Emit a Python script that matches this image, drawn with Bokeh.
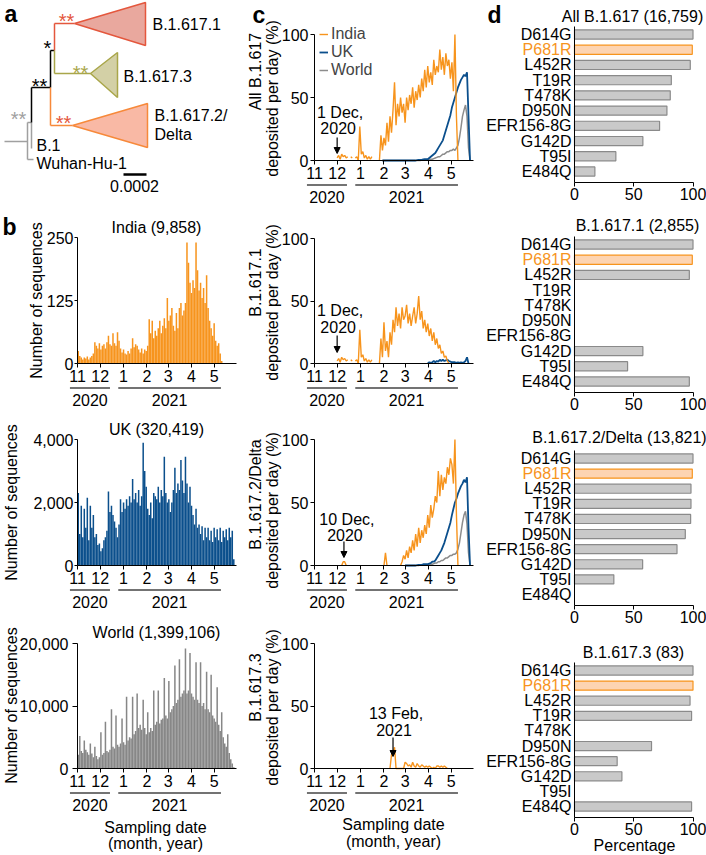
import numpy as np
from bokeh.plotting import figure
from bokeh.models import (Range1d, LinearAxis, FixedTicker, NumeralTickFormatter,
                          Arrow, NormalHead, Legend, LegendItem, ColumnDataSource)
from bokeh.layouts import row, column
from bokeh.embed import file_html
from bokeh.resources import INLINE
from bokeh.core.properties import value

N = float("nan")
FONT = "Liberation Sans"
ORANGE = "#f7941d"
BLUE = "#0b4f8c"
GRAYL = "#8c8c8c"
GRAYB = "#878787"

# ---------------- data ----------------
# x axis: days since 1 Nov 2020
month_ticks = [0, 30, 61, 92, 120, 151, 181]
month_labels = ["11", "12", "1", "2", "3", "4", "5"]
years = ["2020", "2021"]
year_spans = [(-10, 43), (54, 190)]
BIN = 2  # days per value

# panel b: sequences per 2-day bin, starting 1 Nov 2020
india_counts = [25, 15, 12, 8, 12, 10, 14, 8, 12, 15,
                20, 42, 35, 30, 40, 28, 35, 38, 30, 42,
                55, 38, 35, 60, 40, 35, 62, 45, 30, 22,
                28, 20, 18, 25, 20, 30, 50, 32, 38, 35,
                28, 22, 30, 20, 28, 25, 35, 88, 60, 85,
                50, 65, 55, 70, 85, 60, 75, 90, 70, 130,
                85, 95, 110, 75, 65, 100, 70, 110, 120, 95,
                105, 120, 240, 200, 160, 140, 165, 150, 240, 185,
                145, 160, 130, 150, 120, 175, 110, 85, 70, 55,
                80, 45, 35, 40, 20, 5]
uk_counts = [2300, 1000, 1900, 900, 1800, 1200, 2150, 800, 1900, 1200,
             1600, 900, 1000, 650, 700, 450, 550, 800, 900, 1100,
             2350, 1700, 1900, 1600, 1400, 1200, 900, 1300, 2100, 1700,
             2000, 1800, 2100, 1900, 2200, 2000, 2750, 2100, 2300, 2000,
             2400, 1900, 2200, 3900, 3000, 2500, 1800, 1600, 2000, 1500,
             2300, 2200, 2100, 2500, 2000, 2400, 2200, 3450, 2300, 2000,
             2100, 1700, 2000, 2400, 3100, 2300, 2600, 2400, 3350, 2700,
             2300, 3450, 2600, 2000, 2500, 1900, 1600, 1300, 1800, 1200,
             1300, 1000, 1250, 800, 1200, 900, 1200, 800, 1100, 750,
             1200, 900, 1150, 800, 1200, 750, 1100, 900, 1150, 800,
             1200, 900, 1100, 200]
world_counts = [2200, 5200, 2800, 2500, 4500, 3000, 2600, 2200, 4000, 2400,
                1800, 3500, 2000, 1500, 1800, 5800, 2200, 2500, 7500, 2800,
                2600, 3000, 9500, 3500, 3200, 8500, 3800, 3500, 4000, 8000,
                4200, 3800, 11500, 4500, 5000, 4800, 11500, 5500, 6000, 12000,
                6500, 7000, 6200, 11000, 6500, 5500, 9000, 5800, 6500, 6000,
                12500, 7000, 7500, 12500, 7200, 7800, 8000, 14500, 8500, 8000,
                14000, 9000, 9500, 10000, 16500, 10500, 11000, 17500, 11500, 12000,
                12500, 19200, 12000, 12500, 18500, 12000, 11500, 11000, 17000, 11000,
                10500, 17000, 10000, 10500, 9500, 15500, 9500, 9000, 15000, 8500,
                8000, 7500, 13000, 7000, 6000, 9000, 5000, 4000, 3500, 5500,
                2500, 1500, 800, 200]

# panel c: % deposited per day (2-day steps); (start day, values)
c_all_india_start = 30
c_all_india = [2, 4, 1, 5, 3, 4, 2, 3, N, 3,
               2, N, 2, 3, 0, 27, 5, 7, 2, 4,
               1, 3, 1, 3, N, N, N, N, 0, 20,
               8, 18, 12, 30, 15, 35, 22, 40, 62, 28,
               45, 35, 50, 38, 45, 30, 50, 40, 52, 45,
               58, 42, 55, 48, 60, 50, 65, 55, 72, 58,
               75, 62, 70, 60, 80, 68, 75, 70, 88, 72,
               82, 68, 85, 75, 80, 65, 78, 55, 100, 35,
               0]
c_all_uk_start = 90
c_all_uk = [0, 0, 0, 0, 0, 0, 0, 0, 0, 0,
            0, 0, 0, 0, 0, 0, 0, 0, 0, 0,
            0, 0, 0, 0.3, 0.5, 0.5, 0.5, 0.8, 1, 1,
            1, 2, 3, 4, 5, 6, 8, 10, 12, 14,
            16, 20, 24, 28, 32, 36, 42, 46, 50, 54,
            58, 61, 64, 66, 68, 67, 70, 35, 0]
c_all_world_start = 90
c_all_world = [0, 0, 0, 0, 0, 0, 0, 0, 0, 0,
               0, 0, 0, 0, 0, 0, 0, 0, 0, 0,
               0, 0, 0, 0, 0, 0, 0.3, 0.3, 0.5, 0.5,
               0.5, 0.8, 1, 1, 1.5, 2, 2.5, 3, 3, 4,
               5, 5, 6, 7, 7, 8, 8, 9, 8, 10,
               12, 18, 26, 35, 40, 44, 35, 10, 0]

c_1_india_start = 30
c_1_india = [2, 4, 1, 5, 3, 4, 2, 3, N, 3,
             2, N, 2, 3, 0, 27, 5, 7, 2, 4,
             1, 3, 1, 3, N, N, N, N, 0, 20,
             5, 33, 10, 18, 5, 25, 15, 35, 25, 45,
             30, 40, 28, 45, 35, 38, 47, 32, 40, 30,
             38, 45, 32, 40, 54, 35, 42, 28, 35, 25,
             32, 22, 28, 18, 25, 15, 20, 12, 15, 8,
             10, 5, 6, 2, 0, N]
c_1_uk_start = 150
c_1_uk = [0, 1, 0.5, 1, 2, 1, 2, 1.5, 3, 2,
          3, 2, 2.5, 3, 2, 1.5, 1, 1, 1, 0.5,
          1, 0.5, 1, 0.5, 1, 2, 5, 0]

c_2_india_start = 36
c_2_india = [0, 3, 3, 0, N, N, N, N, N, N,
             N, N, N, N, N, N, N, N, N, N,
             N, N, N, N, N, N, N, N, 0, 10,
             0, N, N, N, N, N, N, N, N, 0,
             3, 8, 5, 12, 6, 15, 10, 20, 12, 25,
             15, 30, 18, 28, 22, 32, 25, 40, 30, 48,
             38, 45, 55, 50, 75, 55, 72, 60, 70, 65,
             78, 72, 85, 80, 65, 100, 40, 0]
c_2_uk_start = 120
c_2_uk = [0, 0, 0, 0, 0, 0, 0, 0, 0.3, 0.5,
          0.5, 0.5, 1, 1, 1, 1, 1.5, 2, 3, 3,
          4, 6, 8, 10, 12, 15, 18, 22, 26, 30,
          34, 40, 45, 50, 53, 57, 60, 63, 65, 68,
          66, 70, 30, 0]
c_2_world_start = 120
c_2_world = [0, 0, 0, 0, 0, 0, 0, 0, 0, 0,
             0.3, 0.3, 0.5, 0.5, 0.5, 0.5, 0.8, 1, 1, 1.5,
             2, 2, 3, 3, 4, 4, 5, 6, 6, 7,
             8, 8, 9, 9, 10, 13, 18, 26, 34, 40,
             43, 33, 10, 0]

c_3_india_start = 100
c_3_india = [0, 11, 12, 17, 0, 0, 0, 0, 0, 0,
             5, 4, 2, 3, 1, 5, 2, 1, 4, 2,
             1, 3, 2, 1, 2, 1, 2, 1, 0, 1,
             0, 2, 2, 1, 2, 1, 2, 1, 0]

# panel d: mutation frequencies (%)
mutations = ["D614G", "P681R", "L452R", "T19R", "T478K", "D950N",
             "EFR156-8G", "G142D", "T95I", "E484Q"]
d_all = [100, 99.4, 97.7, 81.7, 80.8, 78.0, 71.8, 57.7, 34.9, 17.2]
d_1 = [100, 99.4, 96.9, 0, 0, 0, 0, 57.7, 44.8, 96.9]
d_2 = [100, 99.4, 98.3, 98.3, 98.0, 93.5, 86.5, 57.5, 33.2, 0]
d_3 = [100, 100, 97.5, 98.8, 0, 65.0, 36.0, 40.0, 0, 98.8]

# panel a: schematic tree (node positions in px)
tree_seg = [  # x0, y0, x1, y1, colour
    (4, 141, 27, 141, "#a0a0a0"), (27, 122, 27, 159, "#a0a0a0"),
    (27, 159, 33, 159, "#a0a0a0"), (27, 122, 31, 122, "#a0a0a0"),
    (31, 122, 31, 148, "#a0a0a0"),
    (31, 122, 31, 87, "black"), (31, 87, 50, 87, "black"),
    (50, 87, 50, 50, "black"), (50, 50, 54, 50, "black"),
    (50, 87, 50, 125, "#f7893a"), (50, 125, 72, 125, "#f7893a"),
    (54, 50, 54, 23, "#e4573d"), (54, 23, 74, 23, "#e4573d"),
    (54, 50, 54, 73, "#a9a64a"), (54, 73, 90, 73, "#a9a64a"),
]
tree_clades = [  # tip x, tip y, right x, top y, bottom y, fill, line
    (74, 23, 145, 2, 45, "#e9a89e", "#e4573d"),
    (90, 73, 117, 52, 97, "#d3d0a6", "#a9a64a"),
    (72, 125, 147, 103, 147, "#f9b9a5", "#f7893a"),
]
tree_labels = [("B.1.617.1", 152, 24), ("B.1.617.3", 123, 76),
               ("B.1.617.2/", 154, 115), ("Delta", 154, 134),
               ("B.1", 36, 145), ("Wuhan-Hu-1", 36, 163)]
tree_stars = [("**", 18, 113, "#a0a0a0"), ("**", 39, 80, "black"), ("*", 47, 42, "black"),
              ("**", 66, 15, "#e4573d"), ("**", 80, 67, "#a9a64a"), ("**", 63, 117, "#e4573d")]


# ---------------- helpers ----------------
class Panel:
    def __init__(self, X0, Y0, W, H, px0, sx, py0, sy):
        self.px0, self.sx, self.py0, self.sy = px0, sx, py0, sy
        xs = (X0 - px0) / sx
        xe = (X0 + W - px0) / sx
        ye = (py0 - Y0) / sy
        ys = (py0 - (Y0 + H)) / sy
        p = figure(width=W, height=H, x_range=Range1d(xs, xe), y_range=Range1d(ys, ye),
                   x_axis_type=None, y_axis_type=None, output_backend="svg",
                   toolbar_location=None, min_border=0, min_border_left=0,
                   min_border_right=0, min_border_top=0, min_border_bottom=0)
        p.outline_line_color = None
        p.background_fill_color = None
        p.border_fill_color = None
        self.p = p

    def fx(self, px):
        return (px - self.px0) / self.sx

    def fy(self, py):
        return (self.py0 - py) / self.sy

    def text(self, px, py, s, size=16, color="black", align="center", angle=0.0,
             bold=False, baseline="middle"):
        self.p.text(x=[self.fx(px)], y=[self.fy(py)], text=[s], text_font=value(FONT),
                    text_font_size=f"{size}px", text_color=color, text_align=align,
                    text_baseline=baseline, angle=angle,
                    text_font_style="bold" if bold else "normal")


def style_axis(ax, tick_out=4, standoff=2):
    ax.axis_line_color = "black"
    ax.axis_line_width = 1
    ax.major_tick_line_color = "black"
    ax.major_tick_in = 0
    ax.major_tick_out = tick_out
    ax.minor_tick_line_color = None
    ax.major_label_text_font = FONT
    ax.major_label_text_font_size = "16px"
    ax.major_label_text_color = "black"
    ax.major_label_standoff = standoff


def time_axes(P, yticks, ybound, tick_out=3, standoff=1):
    p = P.p
    ax = LinearAxis(fixed_location=0, bounds=(0, 211), ticker=FixedTicker(ticks=month_ticks),
                    major_label_overrides={t: l for t, l in zip(month_ticks, month_labels)})
    style_axis(ax, 4, 2)
    p.add_layout(ax, "below")
    ay = LinearAxis(fixed_location=0, bounds=(0, ybound), ticker=FixedTicker(ticks=yticks),
                    formatter=NumeralTickFormatter(format="0,0"))
    style_axis(ay, tick_out, standoff)
    p.add_layout(ay, "left")
    yl = P.fy(P.py0 + 24.5)
    yt = P.fy(P.py0 + 36)
    for (a, b), lab in zip(year_spans, years):
        p.segment(x0=[a], y0=[yl], x1=[b], y1=[yl], line_color="#444444", line_width=1.5)
        p.text(x=[(a + b) / 2], y=[yt], text=[lab], text_font=value(FONT), text_font_size="16px",
               text_align="center", text_baseline="middle", text_color="black")


def days_for(start, vals):
    return start + BIN * np.arange(len(vals))


# ---------------- panel a ----------------
A = Panel(0, 0, 240, 208, 0, 1, 0, -1)
pa = A.p
for x0, y0, x1, y1, c in tree_seg:
    pa.segment(x0=[x0], y0=[y0], x1=[x1], y1=[y1], line_color=c, line_width=1.5)
for tx, ty, rx, top, bot, fc, lc in tree_clades:
    pa.patch(x=[tx, rx, rx], y=[ty, top, bot], fill_color=fc, line_color=lc, line_width=1.5)
for s, x, y in tree_labels:
    A.text(x, y, s, align="left")
for s, x, y, c in tree_stars:
    A.text(x, y + 5, s, size=20, color=c)
pa.segment(x0=[123], y0=[174], x1=[146], y1=[174], line_color="black", line_width=2.5)
A.text(134, 185, "0.0002")
A.text(4, 13, "a", size=23, bold=True, align="left")

# ---------------- panel b ----------------
SX = 0.755
b_specs = [
    ("India (9,858)", india_counts, ORANGE, 208, 202, 363, 126 / 250, [0, 125, 250], 250, 36, 3, 1),
    ("UK (320,419)", uk_counts, BLUE, 410, 205, 565, 126 / 4000, [0, 2000, 4000], 4000, 11, 3, 1),
    ("World (1,399,106)", world_counts, GRAYB, 615, 240, 768, 125 / 20000, [0, 10000, 20000], 20000, 11, 5, 4),
]
b_panels = []
for k, (title, vals, col, Y0, H, py0, sy, yt, yb, lx, to, so) in enumerate(b_specs):
    P = Panel(0, Y0, 240, H, 77, SX, py0, sy)
    d = days_for(0, vals) + BIN / 2
    P.p.vbar(x=d, width=BIN, top=vals, bottom=0, fill_color=col, line_color=None)
    time_axes(P, yt, yb, to, so)
    P.text(156, py0 - 136, title)
    P.text(lx, py0 - 63, "Number of sequences", angle=np.pi / 2)
    b_panels.append(P)
b_panels[0].text(2, 226, "b", size=23, bold=True, align="left")
b_panels[2].text(155, 827, "Sampling date")
b_panels[2].text(155, 843, "(month, year)")

# ---------------- panel c ----------------
c_specs = [  # Y0, H, py0, sy, ylabel line 1, ylabel line 2 y, arrow day, texts, text ys, arrow ys
    (0, 215, 160, 1.26, ("All B.1.617", 71), (98,), 30, ("1 Dec,", "2020"), (112, 127), (137, 153)),
    (215, 203, 363, 1.25, ("B.1.617.1", 282), (302,), 30, ("1 Dec,", "2020"), (310, 326), (335, 352)),
    (418, 202, 565, 1.26, ("B.1.617.2/Delta", 494), (510,), 39, ("10 Dec,", "2020"), (519, 534), (541, 557)),
    (620, 235, 768, 1.25, ("B.1.617.3", 687), (707,), 104, ("13 Feb,", "2021"), (713, 729), (737, 756)),
]
c_series = [
    [(c_all_world_start, c_all_world, GRAYL, 1.5, "World"), (c_all_uk_start, c_all_uk, BLUE, 1.8, "UK"),
     (c_all_india_start, c_all_india, ORANGE, 1.4, "India")],
    [(c_1_uk_start, c_1_uk, BLUE, 1.8, "UK"), (c_1_india_start, c_1_india, ORANGE, 1.4, "India")],
    [(c_2_world_start, c_2_world, GRAYL, 1.5, "World"), (c_2_uk_start, c_2_uk, BLUE, 1.8, "UK"),
     (c_2_india_start, c_2_india, ORANGE, 1.4, "India")],
    [(c_3_india_start, c_3_india, ORANGE, 1.4, "India")],
]
c_panels = []
for k, (Y0, H, py0, sy, yl1, yl2, aday, atxt, aty, ay) in enumerate(c_specs):
    P = Panel(240, Y0, 235, H, 314, SX, py0, sy)
    rends = {}
    for start, vals, col, lw, name in c_series[k]:
        r = P.p.line(x=days_for(start, vals), y=vals, line_color=col, line_width=lw)
        rends[name] = r
    time_axes(P, [0, 50, 100], 100, 4, 2)
    P.text(255, yl1[1], yl1[0], angle=np.pi / 2)
    P.text(272, yl2[0], "deposited per day (%)", angle=np.pi / 2)
    ax_px = P.px0 + aday * SX
    P.text(ax_px + 3, aty[0], atxt[0])
    P.text(ax_px + 1, aty[1], atxt[1])
    P.p.add_layout(Arrow(end=NormalHead(size=6, fill_color="black", line_color="black", line_width=1),
                         x_start=aday, y_start=P.fy(ay[0]), x_end=aday, y_end=P.fy(ay[1]),
                         line_color="black", line_width=1.2))
    if k == 0:
        leg = Legend(items=[LegendItem(label="India", renderers=[rends["India"]]),
                            LegendItem(label="UK", renderers=[rends["UK"]]),
                            LegendItem(label="World", renderers=[rends["World"]])],
                     location=(79, 136), label_text_font=FONT, label_text_font_size="16px",
                     glyph_width=9, glyph_height=16, label_height=16, label_standoff=3,
                     spacing=-4, padding=0, margin=0, border_line_color=None,
                     background_fill_alpha=0)
        P.p.add_layout(leg)
    c_panels.append(P)
c_panels[0].text(252, 14, "c", size=23, bold=True, align="left")
c_panels[3].text(393, 824, "Sampling date")
c_panels[3].text(393, 841, "(month, year)")

# ---------------- panel d ----------------
d_specs = [
    ("All B.1.617 (16,759)", d_all, 0, 210, 34, 171, 632, 16),
    ("B.1.617.1 (2,855)", d_1, 210, 210, 244, 381, 637, 225),
    ("B.1.617.2/Delta (13,821)", d_2, 420, 215, 458, 594, 619, 437),
    ("B.1.617.3 (83)", d_3, 635, 220, 670, 806, 633, 652),
]
d_panels = []
for title, vals, Y0, H, ptop, pbot, tx, ty in d_specs:
    sy = (pbot - ptop) / 9
    P = Panel(475, Y0, 231, H, 574, 1.185, pbot, sy)
    p = P.p
    ypos = [9 - i for i in range(len(mutations))]
    keep = [i for i, v in enumerate(vals) if v > 0]
    src = ColumnDataSource(dict(
        y=[ypos[i] for i in keep], right=[vals[i] for i in keep],
        fill=["#fdd4b2" if mutations[i] == "P681R" else "#c9c9c9" for i in keep],
        line=[ORANGE if mutations[i] == "P681R" else "#8a8a8a" for i in keep]))
    p.hbar(y="y", left=0, right="right", height=0.6, fill_color="fill", line_color="line",
           line_width=1.2, source=src)
    lsrc = ColumnDataSource(dict(
        x=[P.fx(571)] * len(mutations), y=ypos, t=mutations,
        c=[ORANGE if m == "P681R" else "black" for m in mutations]))
    p.text(x="x", y="y", text="t", text_color="c", text_align="right", text_baseline="middle",
           text_font=value(FONT), text_font_size="16px", source=lsrc)
    yax = P.fy(pbot + 11)
    ax = LinearAxis(fixed_location=yax, bounds=(0, 100), ticker=FixedTicker(ticks=[0, 50, 100]))
    style_axis(ax, 4, 1)
    p.add_layout(ax, "below")
    ay = LinearAxis(fixed_location=0, bounds=(yax, P.fy(ptop - 8)), ticker=FixedTicker(ticks=[]))
    style_axis(ay, 0, 0)
    ay.major_label_text_font_size = "0px"
    p.add_layout(ay, "left")
    P.text(tx, ty, title)
    d_panels.append(P)
d_panels[0].text(487, 14, "d", size=23, bold=True, align="left")
d_panels[3].text(634, 845, "Percentage")

layout = row(
    column(A.p, *[P.p for P in b_panels], spacing=0),
    column(*[P.p for P in c_panels], spacing=0),
    column(*[P.p for P in d_panels], spacing=0),
    spacing=0,
)

open("out.html", "w").write(file_html(layout, INLINE))
